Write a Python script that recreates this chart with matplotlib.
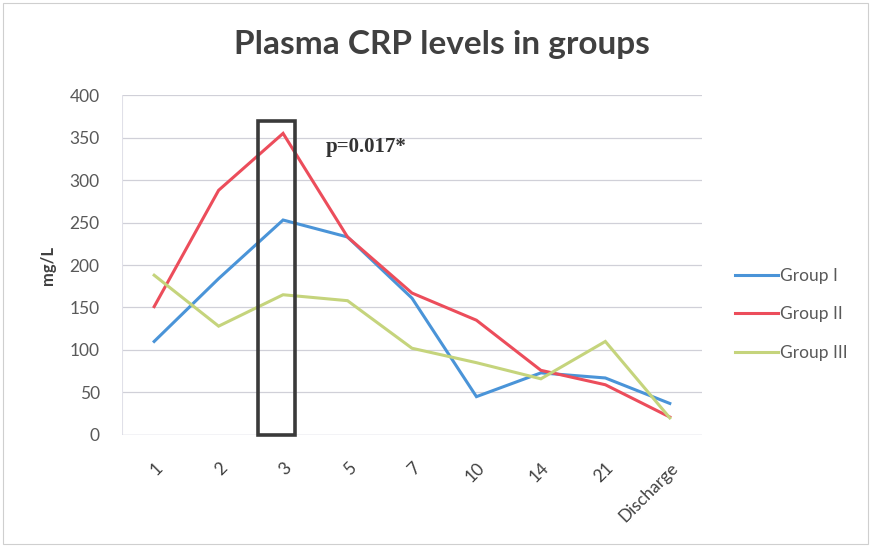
import matplotlib
matplotlib.use("Agg")
import matplotlib.pyplot as plt
from matplotlib.patches import Rectangle

categories = ["1", "2", "3", "5", "7", "10", "14", "21", "Discharge"]
group1 = [110, 184, 253, 233, 161, 45, 73, 67, 37]
group2 = [151, 288, 355, 233, 167, 135, 76, 59, 21]
group3 = [188, 128, 165, 158, 102, 85, 66, 110, 20]
series_names = ["Group I", "Group II", "Group III"]
yticks = [0, 50, 100, 150, 200, 250, 300, 350, 400]
annot_text = "p=0.017*"

plt.rcParams['font.family'] = ['Lato', 'DejaVu Sans']

fig = plt.figure(figsize=(8.71, 5.47), dpi=100)
ax = fig.add_axes([0.140, 0.205, 0.666, 0.621])

x = list(range(len(categories)))
colors = ["#4a94d8", "#ec4d5b", "#c5d47c"]
for vals, name, c in zip([group1, group2, group3], series_names, colors):
    ax.plot(x, vals, color=c, lw=2.2, label=name, solid_joinstyle='miter')

ax.set_xlim(-0.5, len(categories) - 0.5)
ax.set_ylim(0, 400)
ax.set_yticks(yticks)
ax.set_yticklabels([str(v) for v in yticks], color="#595959", fontsize=12.5)
ax.set_xticks(x)
ax.set_xticklabels(categories, rotation=45, ha='right', rotation_mode='anchor',
                   color="#404040", fontsize=12.5)
ax.tick_params(axis='y', length=0, pad=16)
ax.tick_params(axis='x', length=0, pad=18)
ax.grid(axis='y', color="#d0d0d8", lw=0.9)
ax.set_axisbelow(True)
for s in ax.spines.values():
    s.set_visible(False)
ax.axvline(-0.5, color="#e0e0e8", lw=0.8)
ax.axhline(0, color="#d0d0e0", lw=0.9)

# highlight box around day 3
ax.add_patch(Rectangle((1.61, 0), 0.58, 370, fill=False, edgecolor="#3a3a3a",
                       lw=2.6, zorder=5, clip_on=False))
ax.text(2.66, 339, annot_text, fontsize=15, fontweight='bold',
        family=['Liberation Serif', 'DejaVu Serif'], color="#333333",
        va='center', ha='left')

ax.set_ylabel("mg/L", fontsize=12, fontweight='bold', color="#404040", labelpad=10)
fig.suptitle("Plasma CRP levels in groups", fontsize=24, fontweight='bold',
             color="#404040", x=0.507, y=0.945)

ax.legend(loc='center left', bbox_to_anchor=(1.03, 0.355), frameon=False,
          fontsize=12.5, labelcolor="#595959", handlelength=2.5, handletextpad=0.1,
          labelspacing=1.3)

fig.patches.append(Rectangle((0.003, 0.005), 0.994, 0.99, transform=fig.transFigure,
                             fill=False, edgecolor="#cfcfcf", lw=0.8))

fig.savefig("out.png", dpi=100)
